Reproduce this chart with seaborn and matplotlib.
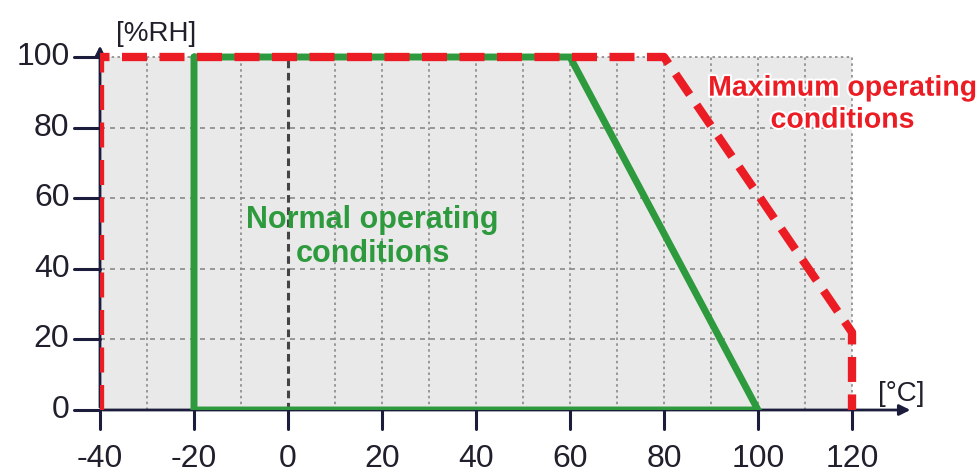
import matplotlib
matplotlib.use("Agg")
import matplotlib.pyplot as plt
import matplotlib.patheffects as pe
import seaborn as sns
import pandas as pd
import numpy as np

# Data
normal_t = [-20, -20, 100, 60, -20]
normal_rh = [100, 0, 0, 100, 100]
max_t = [-40, -40, 80, 120, 120]
max_rh = [0, 100, 100, 22, 0]
x_ticks = [-40, -20, 0, 20, 40, 60, 80, 100, 120]
y_ticks = [0, 20, 40, 60, 80, 100]
grid_x = [-30, -10, 10, 20, 30, 40, 50, 60, 70, 80, 90, 100, 110, 120]
grid_y = [20, 40, 60, 80]

sns.set_style("white")
plt.rcParams['font.family'] = ['Liberation Sans', 'DejaVu Sans']

fig = plt.figure(figsize=(9.77, 4.73), dpi=100)
W, H = 977, 473
xmin, xmax = -40, 135
ymin, ymax = 0, 104
sx = (852 - 100) / 160.0
sy = (410 - 57) / 100.0
left_px = 100
right_px = 100 + (xmax - xmin) * sx
bottom_px = 410
top_px = 410 - ymax * sy
ax = fig.add_axes([left_px / W, 1 - bottom_px / H, (right_px - left_px) / W, (bottom_px - top_px) / H])
ax.set_xlim(xmin, xmax)
ax.set_ylim(ymin, ymax)

for s in ax.spines.values():
    s.set_visible(False)

navy = '#1c1c3c'
gray_fill = '#e9e9e9'
ax.fill_between([-40, 120], 0, 100, color=gray_fill, zorder=0, lw=0)

for gx in grid_x:
    ax.plot([gx, gx], [0, 100], color='#8a8a8a', lw=1.2, ls=(0, (1.5, 2.0)), zorder=1)
for gy in grid_y:
    ax.plot([-40, 120], [gy, gy], color='#8a8a8a', lw=1.2, ls=(0, (3, 3)), zorder=1)
ax.plot([-40, 120], [100, 100], color='#8a8a8a', lw=1.2, ls=(0, (1.5, 2.0)), zorder=1)
ax.plot([0, 0], [0, 100], color='#444444', lw=2.2, ls=(0, (2.5, 1.5)), zorder=1)

# axes with arrows
ax.annotate('', xy=(133, 0), xytext=(-40, 0),
            arrowprops=dict(arrowstyle='-|>', color=navy, lw=2, mutation_scale=16), zorder=2)
ax.annotate('', xy=(-40, 104), xytext=(-40, 0),
            arrowprops=dict(arrowstyle='-|>', color=navy, lw=2, mutation_scale=16), zorder=2)

for xt in x_ticks:
    ax.plot([xt, xt], [0, -5.5], color=navy, lw=2.2, clip_on=False, zorder=2)
    ax.text(xt, -9.5, str(xt), ha='center', va='top', fontsize=23, color='#20202c', clip_on=False)
for yt in y_ticks:
    ax.plot([-40, -45.5], [yt, yt], color=navy, lw=2.2, clip_on=False, zorder=2)
    ax.text(-46.5, yt, str(yt), ha='right', va='center', fontsize=23, color='#20202c', clip_on=False)
ax.set_xticks([])
ax.set_yticks([])

green = '#2e9a3e'
red = '#ec1c24'
df_n = pd.DataFrame({'t': normal_t, 'rh': normal_rh})
df_m = pd.DataFrame({'t': max_t, 'rh': max_rh})
sns.lineplot(data=df_n, x='t', y='rh', sort=False, color=green, lw=5, ax=ax, zorder=4,
             solid_joinstyle='miter', estimator=None)
sns.lineplot(data=df_m, x='t', y='rh', sort=False, color=red, lw=6, ax=ax, zorder=5,
             estimator=None, dashes=False)
ax.lines[-1].set_linestyle((0, (3.0, 1.5)))
ax.set_xlabel('')
ax.set_ylabel('')

ax.text(18, 49, 'Normal operating\nconditions', ha='center', va='center', fontsize=22,
        fontweight='bold', color=green, linespacing=1.15, zorder=6)
ax.text(118, 86.5, 'Maximum operating\nconditions', ha='center', va='center', fontsize=20.5,
        fontweight='bold', color=red, linespacing=1.3, zorder=6, clip_on=False,
        path_effects=[pe.withStroke(linewidth=3, foreground='white')])

ax.text(-36.5, 106.5, '[%RH]', ha='left', va='center', fontsize=20, color='#20202c', clip_on=False)
ax.text(130.5, 4.5, '[°C]', ha='center', va='center', fontsize=20, color='#20202c', clip_on=False)

fig.savefig('out.png', dpi=100)
